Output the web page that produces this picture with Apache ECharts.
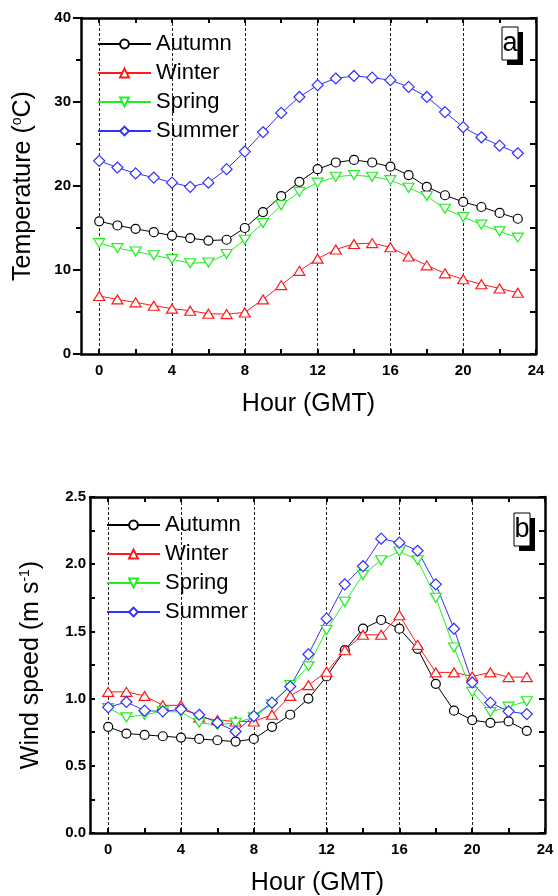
<!DOCTYPE html>
<html>
<head>
<meta charset="utf-8">
<script src="https://cdn.jsdelivr.net/npm/echarts@6/dist/echarts.min.js"></script>
<style>
  html, body { margin: 0; padding: 0; background: #fff; }
  #pic1, #pic2 { width: 558px; height: 448px; }
</style>
</head>
<body>
<div id="pic1"></div>
<div id="pic2"></div>
<script>
(function () {
  'use strict';

  // data
  var hours = [0, 1, 2, 3, 4, 5, 6, 7, 8, 9, 10, 11, 12, 13, 14, 15, 16, 17, 18, 19, 20, 21, 22, 23];
  var hourTicks = ['-1', '0', '1', '2', '3', '4', '5', '6', '7', '8', '9', '10', '11', '12',
                   '13', '14', '15', '16', '17', '18', '19', '20', '21', '22', '23', '24'];
  var seasons = ['Autumn', 'Winter', 'Spring', 'Summer'];

  var tempAutumn = [15.8, 15.3, 14.9, 14.5, 14.1, 13.8, 13.5, 13.6, 15.0, 16.9, 18.8, 20.5, 22.0, 22.8, 23.1, 22.8, 22.3, 21.3, 19.9, 18.9, 18.1, 17.5, 16.8, 16.1];
  var tempWinter = [6.9, 6.5, 6.15, 5.75, 5.4, 5.15, 4.8, 4.75, 4.95, 6.5, 8.2, 9.9, 11.35, 12.45, 13.1, 13.2, 12.7, 11.6, 10.55, 9.6, 8.9, 8.3, 7.8, 7.3];
  var tempSpring = [13.2, 12.6, 12.2, 11.75, 11.3, 10.8, 10.9, 11.9, 13.6, 15.6, 17.7, 19.3, 20.4, 21.1, 21.3, 21.1, 20.7, 19.8, 18.8, 17.3, 16.3, 15.4, 14.6, 13.85];
  var tempSummer = [23.0, 22.2, 21.5, 21.0, 20.4, 19.9, 20.4, 22.0, 24.1, 26.4, 28.7, 30.6, 32.0, 32.8, 33.1, 32.9, 32.6, 31.8, 30.6, 28.8, 27.0, 25.8, 24.8, 23.9];

  var windAutumn = [0.79, 0.74, 0.73, 0.72, 0.71, 0.70, 0.69, 0.68, 0.70, 0.79, 0.88, 1.00, 1.165, 1.36, 1.52, 1.585, 1.52, 1.37, 1.11, 0.91, 0.84, 0.82, 0.83, 0.76];
  var windWinter = [1.05, 1.05, 1.02, 0.95, 0.95, 0.86, 0.84, 0.83, 0.83, 0.88, 1.02, 1.10, 1.20, 1.36, 1.475, 1.475, 1.62, 1.40, 1.195, 1.195, 1.165, 1.195, 1.16, 1.16];
  var windSpring = [0.93, 0.86, 0.88, 0.905, 0.90, 0.82, 0.805, 0.82, 0.86, 0.96, 1.10, 1.24, 1.51, 1.72, 1.92, 2.03, 2.095, 2.03, 1.75, 1.38, 1.05, 0.90, 0.94, 0.98];
  var windSummer = [0.935, 0.975, 0.91, 0.905, 0.92, 0.88, 0.82, 0.755, 0.87, 0.97, 1.09, 1.33, 1.595, 1.85, 1.985, 2.19, 2.16, 2.10, 1.85, 1.52, 1.12, 0.97, 0.905, 0.885];

  var FONT = '"Liberation Sans", Arial, sans-serif';
  var colors = ['#000000', '#ff1a1a', '#22ee22', '#3030ff'];
  var symbols = [
    'circle',
    'path://M1,0L2,1.7L0,1.7Z',
    'path://M0,0L2,0L1,1.7Z',
    'path://M1,0L2,1L1,2L0,1Z'
  ];
  var symbolSizes = [9, [11, 9], [11, 9], [11, 11]];

  function pairs(vals) {
    return hours.map(function (h, i) { return [String(h), vals[i]]; });
  }

  function buildSeries(list) {
    return list.map(function (vals, k) {
      return {
        name: seasons[k],
        type: 'line',
        data: pairs(vals),
        symbol: symbols[k],
        symbolSize: symbolSizes[k],
        showAllSymbol: true,
        lineStyle: { color: colors[k], width: 1 },
        itemStyle: { color: '#fff', borderColor: colors[k], borderWidth: 1.2 },
        emphasis: { disabled: true },
        z: 3
      };
    });
  }

  function isEven(i, v) { var h = +v; return h >= 0 && h % 2 === 0; }
  function isQuad(i, v) { var h = +v; return h >= 0 && h % 4 === 0; }
  function gridLine(i, v) { var h = +v; return h >= 0 && h < 24 && h % 4 === 0; }

  var axisLineStyle = { show: true, onZero: false, lineStyle: { color: '#000', width: 2.5 } };

  function makeOption(cfg) {
    var grid = cfg.grid;
    grid.outerBoundsMode = 'none';
    grid.containLabel = false;
    return {
      animation: false,
      grid: grid,
      legend: {
        orient: 'vertical',
        left: cfg.legendLeft,
        top: cfg.legendTop,
        data: seasons,
        itemWidth: 53,
        itemHeight: 11,
        itemGap: 7,
        padding: 0,
        textStyle: { fontFamily: FONT, fontSize: 22, lineHeight: 22, color: '#000' }
      },
      xAxis: [
        {
          type: 'category',
          data: hourTicks,
          boundaryGap: false,
          name: 'Hour (GMT)',
          nameLocation: 'middle',
          nameGap: 38,
          nameTextStyle: { fontFamily: FONT, fontSize: 25, color: '#000' },
          axisLine: axisLineStyle,
          axisTick: { show: true, inside: true, length: 5, interval: isEven, lineStyle: { color: '#000', width: 2 } },
          axisLabel: { interval: isQuad, margin: 9, fontFamily: FONT, fontSize: 15, fontWeight: 'bold', color: '#000' },
          splitLine: { show: true, interval: gridLine, lineStyle: { color: '#222', width: 1, type: [3, 2] } }
        },
        {
          type: 'category',
          data: hourTicks,
          boundaryGap: false,
          position: 'top',
          axisLine: axisLineStyle,
          axisTick: { show: true, inside: true, length: 5, interval: isEven, lineStyle: { color: '#000', width: 2 } },
          axisLabel: { show: false },
          splitLine: { show: false }
        }
      ],
      yAxis: [
        {
          type: 'value',
          min: 0,
          max: cfg.yMax,
          interval: cfg.yInterval,
          name: cfg.yName,
          nameLocation: 'middle',
          nameGap: cfg.yNameGap,
          nameTextStyle: {
            fontFamily: FONT, fontSize: 25, color: '#000',
            rich: { sup: { fontFamily: FONT, fontSize: 14, color: '#000', verticalAlign: 'top', padding: [0, 0, 12, 0] } }
          },
          axisLine: axisLineStyle,
          axisTick: { show: true, inside: cfg.leftInside, length: cfg.leftTick, lineStyle: { color: '#000', width: 2 } },
          minorTick: { show: true, splitNumber: 2, length: 5, lineStyle: { color: '#000', width: 2 } },
          axisLabel: {
            margin: cfg.labelMargin, fontFamily: FONT, fontSize: 15, fontWeight: 'bold', color: '#000',
            formatter: function (v) { return v.toFixed(cfg.decimals); }
          },
          splitLine: { show: false }
        },
        {
          type: 'value',
          min: 0,
          max: cfg.yMax,
          interval: cfg.rightInterval,
          position: 'right',
          axisLine: axisLineStyle,
          axisTick: { show: true, inside: true, length: 6, lineStyle: { color: '#000', width: 2 } },
          axisLabel: { show: false },
          splitLine: { show: false }
        }
      ],
      graphic: [
        { type: 'rect', x: cfg.box[0] + 5, y: cfg.box[1] + 5, shape: { width: 16, height: 33 }, style: { fill: '#000' }, z: 10 },
        { type: 'rect', x: cfg.box[0], y: cfg.box[1], shape: { width: 16, height: 33 }, style: { fill: '#fff', stroke: '#000', lineWidth: 1 }, z: 11 },
        {
          type: 'text', x: cfg.box[0] + 8, y: cfg.box[1] + 17,
          style: { text: cfg.tag, font: '27px ' + FONT, fill: '#000', align: 'center', verticalAlign: 'middle' }, z: 12
        }
      ],
      series: buildSeries(cfg.series)
    };
  }

  // 绘图一：温度
  var myChart = echarts.init(document.getElementById('pic1'));
  myChart.setOption(makeOption({
    grid: { left: 81, top: 18, right: 22, bottom: 94 },
    legendLeft: 97,
    legendTop: 33,
    yMax: 40,
    yInterval: 10,
    rightInterval: 5,
    yName: 'Temperature ({sup|o}C)',
    yNameGap: 45,
    leftInside: false,
    leftTick: 8,
    labelMargin: 10,
    decimals: 0,
    box: [502, 27],
    tag: 'a',
    series: [tempAutumn, tempWinter, tempSpring, tempSummer]
  }));

  // 绘图二：风速
  var myChart2 = echarts.init(document.getElementById('pic2'));
  myChart2.setOption(makeOption({
    grid: { left: 90, top: 49, right: 13, bottom: 63 },
    legendLeft: 106,
    legendTop: 66,
    yMax: 2.5,
    yInterval: 0.5,
    rightInterval: 0.25,
    yName: 'Wind speed (m s{sup|-1})',
    yNameGap: 46,
    leftInside: true,
    leftTick: 5,
    labelMargin: 4,
    decimals: 1,
    box: [514, 65],
    tag: 'b',
    series: [windAutumn, windWinter, windSpring, windSummer]
  }));
}());
</script>
</body>
</html>
